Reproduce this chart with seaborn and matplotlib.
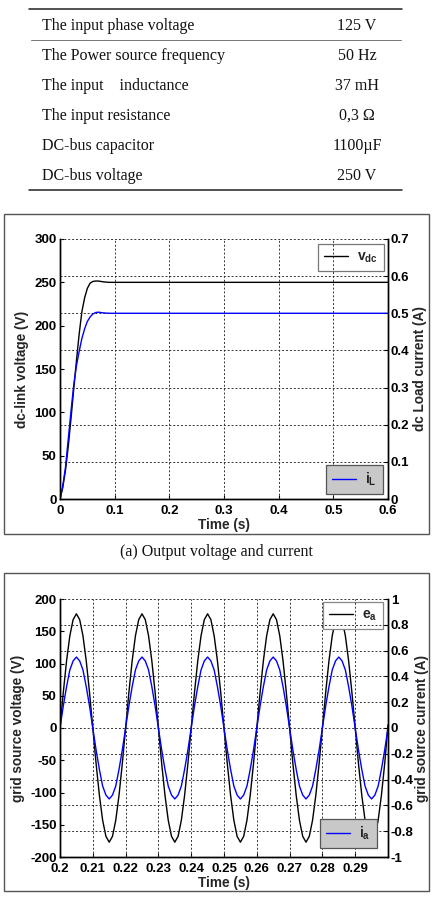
import matplotlib
matplotlib.use("Agg")
import matplotlib.pyplot as plt
import seaborn as sns
import pandas as pd
from matplotlib.patches import Rectangle
from matplotlib.lines import Line2D

# ---------------- data ----------------
param_names = ["The input phase voltage", "The Power source frequency",
               "The input    inductance", "The input resistance",
               "DC-bus capacitor", "DC-bus voltage"]
param_values = ["125 V", "50 Hz", "37 mH", "0,3 \u03a9", "1100\u00b5F", "250 V"]

# (a) dc-link voltage and load current
t_a = [0.0, 0.005, 0.01, 0.015, 0.02, 0.025, 0.03, 0.035, 0.04, 0.045, 0.05,
       0.055, 0.06, 0.065, 0.07, 0.075, 0.08, 0.09, 0.1, 0.2, 0.3, 0.4, 0.5, 0.6]
vdc = [0, 13, 33, 60, 92, 126, 159, 190, 216, 232, 243,
       249, 251, 251.5, 251.5, 251, 250.5, 250, 250, 250, 250, 250, 250, 250]
iL = [0, 0.035, 0.085, 0.16, 0.235, 0.305, 0.358, 0.397, 0.432, 0.458, 0.478,
      0.490, 0.498, 0.502, 0.503, 0.502, 0.501, 0.500, 0.5, 0.5, 0.5, 0.5, 0.5, 0.5]

a_xticks = [0, 0.1, 0.2, 0.3, 0.4, 0.5, 0.6]
a_xlabels = ["0", "0.1", "0.2", "0.3", "0.4", "0.5", "0.6"]
a_lticks = [0, 50, 100, 150, 200, 250, 300]
a_llabels = ["0", "50", "100", "150", "200", "250", "300"]
a_rticks = [0, 0.1, 0.2, 0.3, 0.4, 0.5, 0.6, 0.7]
a_rlabels = ["0", "0.1", "0.2", "0.3", "0.4", "0.5", "0.6", "0.7"]

# (b) grid source voltage and current
t_b = [0.200, 0.201, 0.202, 0.203, 0.204, 0.205, 0.206, 0.207, 0.208, 0.209,
       0.210, 0.211, 0.212, 0.213, 0.214, 0.215, 0.216, 0.217, 0.218, 0.219,
       0.220, 0.221, 0.222, 0.223, 0.224, 0.225, 0.226, 0.227, 0.228, 0.229,
       0.230, 0.231, 0.232, 0.233, 0.234, 0.235, 0.236, 0.237, 0.238, 0.239,
       0.240, 0.241, 0.242, 0.243, 0.244, 0.245, 0.246, 0.247, 0.248, 0.249,
       0.250, 0.251, 0.252, 0.253, 0.254, 0.255, 0.256, 0.257, 0.258, 0.259,
       0.260, 0.261, 0.262, 0.263, 0.264, 0.265, 0.266, 0.267, 0.268, 0.269,
       0.270, 0.271, 0.272, 0.273, 0.274, 0.275, 0.276, 0.277, 0.278, 0.279,
       0.280, 0.281, 0.282, 0.283, 0.284, 0.285, 0.286, 0.287, 0.288, 0.289,
       0.290, 0.291, 0.292, 0.293, 0.294, 0.295, 0.296, 0.297, 0.298, 0.299,
       0.300]
e_a = [0, 55, 104, 143, 168, 177, 168, 143, 104, 55,
       0, -55, -104, -143, -168, -177, -168, -143, -104, -55,
       0, 55, 104, 143, 168, 177, 168, 143, 104, 55,
       0, -55, -104, -143, -168, -177, -168, -143, -104, -55,
       0, 55, 104, 143, 168, 177, 168, 143, 104, 55,
       0, -55, -104, -143, -168, -177, -168, -143, -104, -55,
       0, 55, 104, 143, 168, 177, 168, 143, 104, 55,
       0, -55, -104, -143, -168, -177, -168, -143, -104, -55,
       0, 55, 104, 143, 168, 177, 168, 143, 104, 55,
       0, -55, -104, -143, -168, -177, -168, -143, -104, -55,
       5]
i_a = [0, 0.17, 0.32, 0.45, 0.52, 0.55, 0.52, 0.45, 0.32, 0.17,
       0, -0.17, -0.32, -0.45, -0.52, -0.55, -0.52, -0.45, -0.32, -0.17,
       0, 0.17, 0.32, 0.45, 0.52, 0.55, 0.52, 0.45, 0.32, 0.17,
       0, -0.17, -0.32, -0.45, -0.52, -0.55, -0.52, -0.45, -0.32, -0.17,
       0, 0.17, 0.32, 0.45, 0.52, 0.55, 0.52, 0.45, 0.32, 0.17,
       0, -0.17, -0.32, -0.45, -0.52, -0.55, -0.52, -0.45, -0.32, -0.17,
       0, 0.17, 0.32, 0.45, 0.52, 0.55, 0.52, 0.45, 0.32, 0.17,
       0, -0.17, -0.32, -0.45, -0.52, -0.55, -0.52, -0.45, -0.32, -0.17,
       0, 0.17, 0.32, 0.45, 0.52, 0.55, 0.52, 0.45, 0.32, 0.17,
       0, -0.17, -0.32, -0.45, -0.52, -0.55, -0.52, -0.45, -0.32, -0.17,
       0]

b_xticks = [0.20, 0.21, 0.22, 0.23, 0.24, 0.25, 0.26, 0.27, 0.28, 0.29]
b_xlabels = ["0.2", "0.21", "0.22", "0.23", "0.24", "0.25", "0.26", "0.27", "0.28", "0.29"]
b_lticks = [-200, -150, -100, -50, 0, 50, 100, 150, 200]
b_llabels = ["-200", "-150", "-100", "-50", "0", "50", "100", "150", "200"]
b_rticks = [-1, -0.8, -0.6, -0.4, -0.2, 0, 0.2, 0.4, 0.6, 0.8, 1]
b_rlabels = ["-1", "-0.8", "-0.6", "-0.4", "-0.2", "0", "0.2", "0.4", "0.6", "0.8", "1"]

# ---------------- style ----------------
sns.set_theme(style="white")
plt.rcParams["font.family"] = ["Liberation Sans", "DejaVu Sans"]
plt.rcParams["font.weight"] = "bold"
plt.rcParams["axes.labelweight"] = "bold"
plt.rcParams["mathtext.fontset"] = "custom"
plt.rcParams["mathtext.rm"] = "Liberation Sans:bold"
plt.rcParams["mathtext.it"] = "Liberation Sans:bold"
plt.rcParams["mathtext.bf"] = "Liberation Sans:bold"

W, H = 434, 902
fig = plt.figure(figsize=(W / 100, H / 100), dpi=100)
fig.patch.set_facecolor("white")


def fx(px):
    return px / W


def fy(py):
    return 1 - py / H


# ---------------- table ----------------
fig.add_artist(Line2D([fx(29), fx(402)], [fy(8.5), fy(8.5)], color="#222", lw=1.1))
fig.add_artist(Line2D([fx(31), fx(401)], [fy(39.5), fy(39.5)], color="#777", lw=0.7))
fig.add_artist(Line2D([fx(29), fx(402)], [fy(190), fy(190)], color="#222", lw=1.1))
row_base = [29.5, 59.5, 89.5, 120, 150, 180]
for name, val, yb in zip(param_names, param_values, row_base):
    fig.text(fx(41.7), fy(yb), name, ha="left", va="baseline",
             family="Liberation Serif", fontweight="normal", size=11.5, color="#111")
    fig.text(fx(357), fy(yb), val, ha="center", va="baseline",
             family="Liberation Serif", fontweight="normal", size=11.5, color="#111")

# frames and caption
fig.add_artist(Rectangle((fx(4), fy(534)), (429 - 4) / W, (534 - 214) / H,
                         transform=fig.transFigure, fill=False, ec="#555", lw=1.0))
fig.add_artist(Rectangle((fx(4), fy(891)), (429 - 4) / W, (891 - 573) / H,
                         transform=fig.transFigure, fill=False, ec="#555", lw=1.0))
fig.text(fx(216), fy(556), "(a) Output voltage and current", ha="center", va="baseline",
         family="Liberation Serif", fontweight="normal", size=11.5, color="#111")

GRID = dict(color="#333", linestyle=(0, (2, 2)), linewidth=0.7)
TICK = 9.5
LAB = 9.8


def style_axes(ax1, ax2):
    for ax in (ax1, ax2):
        ax.set_facecolor("none")
        ax.spines["top"].set_visible(False)
        for s in ("left", "right", "bottom"):
            ax.spines[s].set_color("black")
            ax.spines[s].set_linewidth(1.0)
    ax1.tick_params(axis="y", direction="in", length=3, width=0.8,
                    labelsize=TICK, colors="black", pad=2.5, left=True)
    ax1.tick_params(axis="x", direction="in", length=3, width=0.8,
                    labelsize=TICK, colors="black", pad=4.2, bottom=True)
    ax2.tick_params(axis="y", direction="in", length=3, width=0.8,
                    labelsize=TICK, colors="black", pad=2, right=True)
    ax1.grid(False)
    # vertical grid on the twin axes (drawn above the voltage curve, like the original)
    ax2.xaxis.set_visible(True)
    ax2.tick_params(axis="x", bottom=False, top=False, labelbottom=False, labeltop=False)
    ax2.grid(True, axis="both", **GRID)


LEG = dict(frameon=True, fancybox=False, framealpha=1, fontsize=10,
           handlelength=1.73, handletextpad=0.65, borderpad=0.43, borderaxespad=0)

# ---------------- (a) ----------------
df_a = pd.DataFrame({"t": t_a, "vdc": vdc, "iL": iL})
axA = fig.add_axes([fx(60), fy(499), (388 - 60) / W, (499 - 239) / H])
axA2 = axA.twinx()
sns.lineplot(data=df_a, x="t", y="vdc", ax=axA, color="black", lw=1.0, legend=False)
sns.lineplot(data=df_a, x="t", y="iL", ax=axA2, color="blue", lw=1.0, legend=False)
axA.set_xlim(0, 0.6)
axA.set_ylim(0, 300)
axA2.set_ylim(0, 0.7)
axA.set_xticks(a_xticks, a_xlabels)
axA.set_yticks(a_lticks, a_llabels)
axA2.set_yticks(a_rticks, a_rlabels)
style_axes(axA, axA2)
axA2.set_xlabel("")
axA.set_xlabel("Time (s)", fontsize=LAB, va="center")
axA.xaxis.set_label_coords(0.5, (499 - 525) / 260)
axA.set_ylabel("dc-link voltage (V)", fontsize=LAB, va="center")
axA.yaxis.set_label_coords((22 - 60) / 328, 0.5)
axA2.set_ylabel("dc Load current (A)", fontsize=LAB, va="center")
axA2.yaxis.set_label_coords((420 - 60) / 328, 0.5)

legA1 = axA.legend(handles=[axA.lines[0]], labels=[r"$\mathrm{v}_{\mathrm{dc}}\;\;$"],
                   loc="upper right", bbox_to_anchor=(0.988, 0.981),
                   facecolor="white", edgecolor="#777", **LEG)
legA1.get_frame().set_linewidth(0.9)
legA2 = axA2.legend(handles=[axA2.lines[0]], labels=[r"$\mathrm{i}_{\mathrm{L}}\;\;$"],
                    loc="lower right", bbox_to_anchor=(0.985, 0.019),
                    facecolor="#c8c8c8", edgecolor="#555", **LEG)
legA2.get_frame().set_linewidth(0.9)

# ---------------- (b) ----------------
df_b = pd.DataFrame({"t": t_b, "e_a": e_a, "i_a": i_a})
axB = fig.add_axes([fx(60), fy(857), (388 - 60) / W, (857 - 599) / H])
axB2 = axB.twinx()
sns.lineplot(data=df_b, x="t", y="e_a", ax=axB, color="black", lw=1.0, legend=False)
sns.lineplot(data=df_b, x="t", y="i_a", ax=axB2, color="blue", lw=1.0, legend=False)
axB.set_xlim(0.2, 0.3)
axB.set_ylim(-200, 200)
axB2.set_ylim(-1, 1)
axB.set_xticks(b_xticks, b_xlabels)
axB.set_yticks(b_lticks, b_llabels)
axB2.set_yticks(b_rticks, b_rlabels)
style_axes(axB, axB2)
axB2.set_xlabel("")
axB.set_xlabel("Time (s)", fontsize=LAB, va="center")
axB.xaxis.set_label_coords(0.5, (857 - 883) / 258)
axB.set_ylabel("grid source voltage (V)", fontsize=LAB, va="center")
axB.yaxis.set_label_coords((18 - 60) / 328, 0.5)
axB2.set_ylabel("grid source current (A)", fontsize=LAB, va="center")
axB2.yaxis.set_label_coords((422 - 60) / 328, 0.5)

legB1 = axB.legend(handles=[axB.lines[0]], labels=[r"$\mathrm{e}_{\mathrm{a}}\;\;$"],
                   loc="upper right", bbox_to_anchor=(0.985, 0.988),
                   facecolor="white", edgecolor="#888", **LEG)
legB1.get_frame().set_linewidth(0.9)
legB2 = axB2.legend(handles=[axB2.lines[0]], labels=[r"$\mathrm{i}_{\mathrm{a}}\;\;$"],
                    loc="lower right", bbox_to_anchor=(0.966, 0.035),
                    facecolor="#c8c8c8", edgecolor="#555", **LEG)
legB2.get_frame().set_linewidth(0.9)

fig.savefig("out.png", dpi=100, facecolor="white")
